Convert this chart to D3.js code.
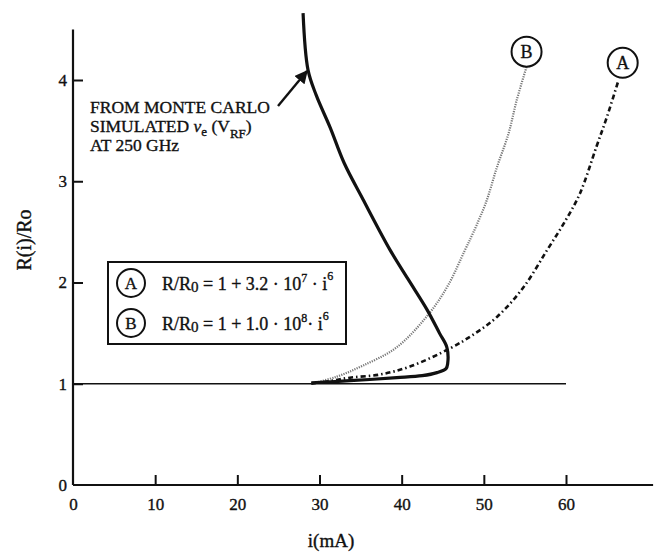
<!DOCTYPE html>
<html>
<head>
<meta charset="utf-8">
<script src="https://cdn.jsdelivr.net/npm/d3@7"></script>
<style>
  body { margin: 0; background: #fff; }
  svg { font-family: "Liberation Serif", "DejaVu Serif", serif; }
  text { fill: #111; stroke: #111; stroke-width: 0.35; }
</style>
</head>
<body>
<div id="chart"></div>
<script>
// data (i in mA, R/R0)
const xTicks = [0, 10, 20, 30, 40, 50, 60];
const yTicks = [0, 1, 2, 3, 4];

const baseI = [0, 60];
const baseR = [1, 1];

// fit A: R/R0 = 1 + 3.2e7 i^6 (dash)
const curveAI = [29, 31.5, 33.7, 37.3, 41, 45.9, 48.8, 51.6, 54.8, 57.7, 60, 61.7, 63.7, 65, 66.4];
const curveAR = [1.0, 1.03, 1.06, 1.09, 1.17, 1.35, 1.49, 1.66, 1.95, 2.32, 2.62, 2.88, 3.34, 3.64, 4.0];

// fit B: R/R0 = 1 + 1.0e8 i^6 (dotted)
const curveBI = [29, 32.1, 35.3, 39.4, 43.4, 45.7, 47.7, 48.7, 50.3, 51.6, 53, 54, 55.2];
const curveBR = [1.0, 1.07, 1.18, 1.36, 1.70, 1.98, 2.32, 2.49, 2.80, 3.14, 3.47, 3.80, 4.13];

// Monte Carlo simulated curve (thick solid)
const mcI = [29, 33.7, 39.4, 42.5, 44.3, 45.4, 45.6, 45.5, 44.6, 43.1, 40.8, 38.6, 35.3, 33.0, 31.3, 29.6, 28.6, 28.0];
const mcR = [1.01, 1.03, 1.06, 1.08, 1.11, 1.15, 1.20, 1.36, 1.50, 1.73, 2.03, 2.32, 2.82, 3.18, 3.53, 3.85, 4.10, 4.66];

const labelA = { i: 66.9, r: 4.17, text: "A" };
const labelB = { i: 55.2, r: 4.28, text: "B" };

// sizing
const W = 655, H = 552;
const svg = d3.select("#chart").append("svg").attr("width", W).attr("height", H);

const x = d3.scaleLinear().domain([0, 60]).range([73, 566]);
const y = d3.scaleLinear().domain([0, 4]).range([485, 80]);
const xMax = 70.6, yMax = 4.5;

// axes lines
svg.append("line").attr("x1", x(0)).attr("x2", x(xMax)).attr("y1", y(0)).attr("y2", y(0))
  .attr("stroke", "#111").attr("stroke-width", 2.2);
svg.append("line").attr("x1", x(0)).attr("x2", x(0)).attr("y1", y(0)).attr("y2", y(yMax))
  .attr("stroke", "#111").attr("stroke-width", 2.2);

const xAxis = svg.append("g").attr("transform", `translate(0,${y(0)})`)
  .call(d3.axisBottom(x).tickValues(xTicks).tickSize(-10).tickPadding(13).tickFormat(d3.format("d")));
const yAxis = svg.append("g").attr("transform", `translate(${x(0)},0)`)
  .call(d3.axisLeft(y).tickValues(yTicks).tickSize(-10).tickPadding(6).tickFormat(d3.format("d")));
[xAxis, yAxis].forEach(a => {
  a.select(".domain").remove();
  a.selectAll(".tick line").attr("stroke", "#111").attr("stroke-width", 2);
  a.selectAll(".tick text").attr("font-size", 17).attr("font-family", "Liberation Serif").attr("fill", "#111");
});
xAxis.selectAll(".tick").filter(d => d === 0).select("line").remove();
yAxis.selectAll(".tick").filter(d => d === 0).select("line").remove();

// axis titles
svg.append("text").attr("x", 331).attr("y", 547).attr("text-anchor", "middle")
  .attr("font-size", 19).text("i(mA)");
svg.append("text").attr("transform", "translate(31,240) rotate(-90)").attr("text-anchor", "middle")
  .attr("font-size", 20).text("R(i)/Ro");

const line = d3.line().x(d => x(d[0])).y(d => y(d[1])).curve(d3.curveCatmullRom.alpha(0.5));
const zip = (a, b) => a.map((v, k) => [v, b[k]]);

// R = 1 baseline
svg.append("path").attr("d", d3.line().x(d => x(d[0])).y(d => y(d[1]))(zip(baseI, baseR)))
  .attr("fill", "none").attr("stroke", "#111").attr("stroke-width", 1.6);

// fit B dotted grey
svg.append("path").attr("d", line(zip(curveBI, curveBR)))
  .attr("fill", "none").attr("stroke", "#777").attr("stroke-width", 2.2)
  .attr("stroke-dasharray", "1.2 1.2");

// fit A dashed
svg.append("path").attr("d", line(zip(curveAI, curveAR)))
  .attr("fill", "none").attr("stroke", "#111").attr("stroke-width", 2.6)
  .attr("stroke-dasharray", "5 3 1.5 3");

// Monte Carlo curve, clipped at the top of the frame
svg.append("clipPath").attr("id", "clip").append("rect")
  .attr("x", 0).attr("y", 12).attr("width", W).attr("height", H);
svg.append("path").attr("d", line(zip(mcI, mcR))).attr("clip-path", "url(#clip)")
  .attr("fill", "none").attr("stroke", "#111").attr("stroke-width", 3.2);

// circled curve labels
[labelA, labelB].forEach(l => {
  const g = svg.append("g").attr("transform", `translate(${x(l.i)},${y(l.r)})`);
  g.append("circle").attr("r", 15).attr("fill", "#fff").attr("stroke", "#111").attr("stroke-width", 2);
  g.append("text").attr("text-anchor", "middle").attr("dy", "0.36em").attr("font-size", 18).text(l.text);
});

// annotation + arrow
svg.append("defs").append("marker").attr("id", "head").attr("viewBox", "0 0 10 10")
  .attr("refX", 9).attr("refY", 5).attr("markerWidth", 5.5).attr("markerHeight", 5.5)
  .attr("orient", "auto").append("path").attr("d", "M0,0 L10,5 L0,10 z").attr("fill", "#111");
svg.append("line").attr("x1", 278).attr("y1", 106).attr("x2", 307).attr("y2", 71)
  .attr("stroke", "#111").attr("stroke-width", 2.4).attr("marker-end", "url(#head)");

const note = svg.append("g").attr("font-size", 17.5);
note.append("text").attr("x", 90).attr("y", 113).text("FROM MONTE CARLO");
const t2 = note.append("text").attr("x", 90).attr("y", 132);
t2.append("tspan").text("SIMULATED ");
t2.append("tspan").attr("font-style", "italic").text("\u03bd");
t2.append("tspan").attr("font-size", 13).attr("dy", 4).text("e");
t2.append("tspan").attr("dy", -4).text(" (V");
t2.append("tspan").attr("font-size", 13).attr("dy", 6).text("RF");
t2.append("tspan").attr("dy", -6).text(")");
note.append("text").attr("x", 90).attr("y", 151).text("AT 250 GHz");

// legend box
const legend = svg.append("g");
legend.append("rect").attr("x", 108).attr("y", 262).attr("width", 238).attr("height", 82)
  .attr("fill", "#fff").attr("stroke", "#111").attr("stroke-width", 2);
const legendRows = [
  { key: "A", coef: "3.2", exp: "7", gap: " \u00b7  i", cy: 283 },
  { key: "B", coef: "1.0", exp: "8", gap: "\u00b7 i", cy: 323 }
];
legendRows.forEach(r => {
  legend.append("circle").attr("cx", 131).attr("cy", r.cy).attr("r", 14)
    .attr("fill", "none").attr("stroke", "#111").attr("stroke-width", 2);
  legend.append("text").attr("x", 131).attr("y", r.cy).attr("dy", "0.36em")
    .attr("text-anchor", "middle").attr("font-size", 17).text(r.key);
  const t = legend.append("text").attr("x", 162).attr("y", r.cy + 7).attr("font-size", 18);
  t.append("tspan").text("R/R");
  t.append("tspan").attr("font-size", 15).attr("dy", 2).text("0");
  t.append("tspan").attr("dy", -2).text(" = 1 + " + r.coef + " \u00b7 10");
  t.append("tspan").attr("font-size", 12).attr("dy", -8).text(r.exp);
  t.append("tspan").attr("dy", 8).text(r.gap);
  t.append("tspan").attr("font-size", 12).attr("dy", -10).text("6");
});
</script>
</body>
</html>
